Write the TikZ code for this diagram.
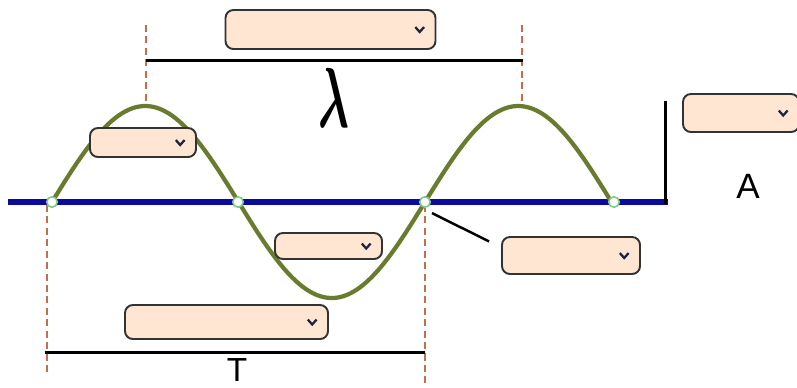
\documentclass[tikz,border=0pt]{standalone}
\usepackage{fontspec}
\setsansfont{Liberation Sans}
\usetikzlibrary{calc}
\definecolor{wavegreen}{HTML}{687B2E}
\definecolor{axisblue}{HTML}{0A0A9C}
\definecolor{guidered}{HTML}{C46E4C}
\definecolor{boxfill}{HTML}{FFE6D2}
\definecolor{chevblue}{HTML}{1E2440}
\tikzset{
  dropdown/.style 2 args={draw=black!80,line width=1.1pt,fill=boxfill,rounded corners=4.5pt,
    minimum width=#1*0.02cm,minimum height=#2*0.02cm,inner sep=0pt,
    path picture={\draw[chevblue,line width=1.3pt,rounded corners=0pt]
      ([shift={(-11.5pt,1.4pt)}]path picture bounding box.east) -- ++(2.5pt,-2.8pt) -- ++(2.5pt,2.8pt);}},
  zero/.style={circle,draw=green!40!gray!70,fill=white,line width=0.9pt,inner sep=0pt,minimum size=6pt},
  guide/.style={guidered,line width=1.3pt,dash pattern=on 4pt off 2.5pt},
  span/.style={black,line width=1.7pt},
  pointer/.style={black,line width=1.4pt}
}
\begin{document}
\begin{tikzpicture}[x=0.02cm,y=-0.02cm]
\useasboundingbox[fill=white] (0,0) rectangle (797,387);
% guides
\draw[guide] (146,25) -- (146,101);
\draw[guide] (522,25) -- (522,103);
\draw[guide] (47,205) -- (47,372);
\draw[guide] (425,205) -- (425,387);
% axis and wave
\draw[axisblue,line width=3.1pt] (8,202) -- (668,202);
\draw[span] (665,101) -- (665,203.5);
\draw[wavegreen,line width=2.4pt,smooth] plot[domain=52:612,samples=120] (\x,{202-96*sin((\x-52)/373*360)});
\node[zero] (z0) at (52,202) {};
\node[zero] (z1) at (238,202) {};
\node[zero] (z2) at (425,202) {};
\node[zero] (z3) at (614,202) {};
% lengths
\draw[span] (146,60) -- (523,60);
\draw[span] (45,352) -- (425,352);
\node (lam) at (334,98) {\scalebox{1.05}[1.95]{\Huge\boldmath$\lambda$}};
\node[anchor=base,inner sep=0pt] (T) at (237,381) {\sffamily\fontsize{19}{19}\selectfont T};
\node (A) at (748,186) {\sffamily\fontsize{20}{20}\selectfont A};
% answer boxes
\node[dropdown={210}{39}] (b1) at (330.5,29.5) {};
\node[dropdown={116}{38}] (b2) at (741,113) {};
\node[dropdown={106}{29}] (b3) at (143,142.5) {};
\node[dropdown={107}{26}] (b4) at (328.5,246) {};
\node[dropdown={138}{37}] (b5) at (571,255.5) {};
\node[dropdown={203}{34}] (b6) at (226.5,322) {};
\draw[pointer] ($(z2)+(7,11)$) -- ($(b5.west)+(-12,-14)$);
\end{tikzpicture}
\end{document}
